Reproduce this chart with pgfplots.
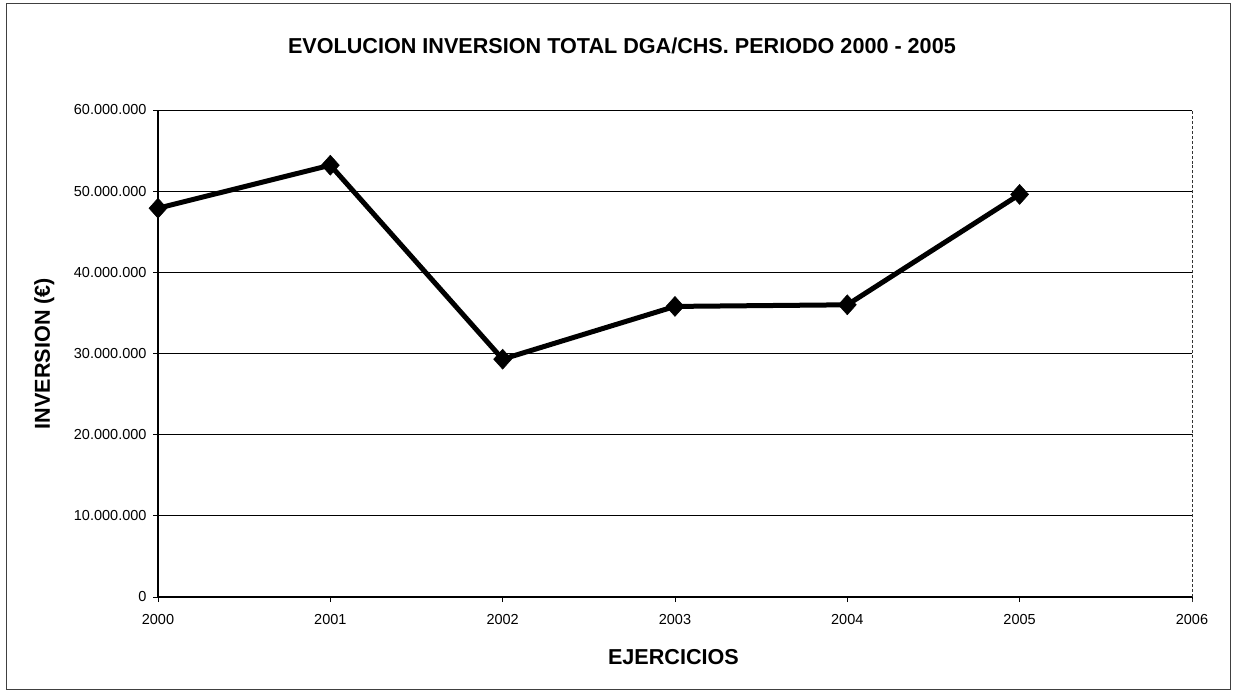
\documentclass[border=0pt]{standalone}
\usepackage{fontspec}
\setmainfont{Liberation Sans}
\usepackage{pgfplots}
\pgfplotsset{compat=1.18}
\begin{document}
\begin{tikzpicture}
\path[use as bounding box] (-158bp,-94bp) rectangle (1075bp,597bp);
\draw[line width=0.8bp, black!75] (-152bp,-92bp) rectangle (1072bp,594bp);
\begin{axis}[
  scale only axis,
  width=1034bp, height=487bp,
  at={(0,0)}, anchor=south west,
  xmin=2000, xmax=2006,
  ymin=0, ymax=60000000,
  xtick={2000,2001,2002,2003,2004,2005,2006},
  ytick={0,10000000,20000000,30000000,40000000,50000000,60000000},
  scaled y ticks=false,
  scaled x ticks=false,
  /pgf/number format/assume math mode=true,
  x tick label style={/pgf/number format/1000 sep={}, yshift=-9bp},
  y tick label style={/pgf/number format/fixed, /pgf/number format/1000 sep={.}, xshift=-3bp},
  tick label style={font=\fontsize{14.5bp}{17bp}\selectfont},
  tick align=outside,
  major tick length=5bp,
  tick style={black, line width=0.8bp},
  axis x line*=bottom,
  axis y line*=left,
  axis line style={black, line width=1.2bp, -},
  ymajorgrids,
  grid style={black, line width=0.9bp},
  xlabel={EJERCICIOS},
  ylabel={INVERSION (€)},
  xlabel style={font=\bfseries\fontsize{21.6bp}{26bp}\selectfont, at={(axis description cs:0.4985,0)}, anchor=north, inner sep=0pt, yshift=-52bp},
  ylabel style={font=\bfseries\fontsize{21.6bp}{26bp}\selectfont, at={(axis description cs:-0.1001,0.5)}, anchor=south, inner sep=0pt},
  title={EVOLUCION INVERSION TOTAL DGA/CHS. PERIODO 2000 - 2005},
  title style={font=\bfseries\fontsize{21.6bp}{26bp}\selectfont, at={(axis description cs:0.4487,1.103)}, anchor=base, inner sep=0pt},
  clip=false,
]
\draw[densely dashed, line width=0.8bp, black!80] (rel axis cs:1,-0.01) -- (rel axis cs:1,1);
\addplot[black, line width=5bp, mark=diamond*, mark size=10bp, mark options={solid, line width=0.5bp, fill=black, xscale=1.2}]
coordinates {
(2000,47900000)
(2001,53200000)
(2002,29300000)
(2003,35800000)
(2004,36000000)
(2005,49600000)
};
\end{axis}
\end{tikzpicture}
\end{document}
